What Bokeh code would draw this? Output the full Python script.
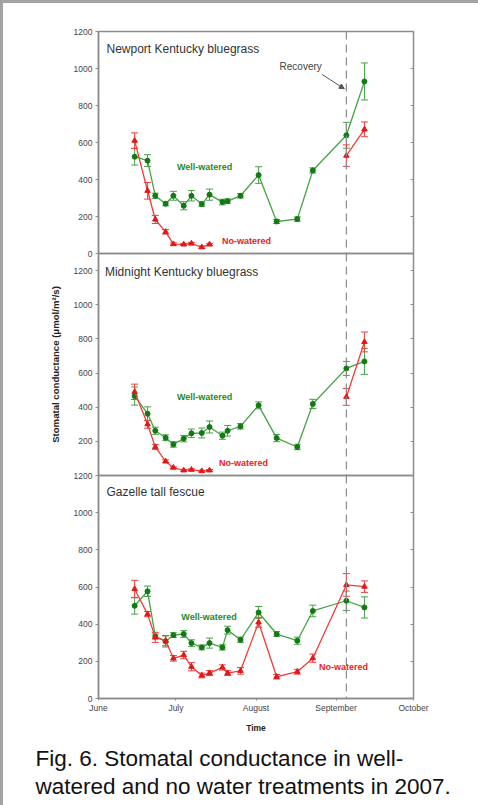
import math
import numpy as np
import pandas as pd
from bokeh.plotting import figure
from bokeh.models import (Range1d, FixedTicker, LinearAxis, Span, Label, Arrow,
                          NormalHead, Whisker, TeeHead, ColumnDataSource, Title)
from bokeh.layouts import column
from bokeh.embed import file_html
from bokeh.resources import INLINE

nan = float("nan")

# ---------------- data ----------------
dates = ["2007-06-15", "2007-06-20", "2007-06-23", "2007-06-27", "2007-06-30",
         "2007-07-04", "2007-07-07", "2007-07-11", "2007-07-14", "2007-07-19",
         "2007-07-21", "2007-07-26", "2007-08-02", "2007-08-09", "2007-08-17",
         "2007-08-23", "2007-09-05", "2007-09-12"]
start_date = "2007-06-01"
end_date = "2007-10-01"
month_starts = ["2007-06-01", "2007-07-01", "2007-08-01", "2007-09-01", "2007-10-01"]
month_labels = ["June", "July", "August", "September", "October"]
recovery_date = "2007-09-05"
y_ticks = [0, 200, 400, 600, 800, 1000, 1200]
y_ticks_middle = [200, 400, 600, 800, 1000, 1200]

panel_titles = ["Newport Kentucky bluegrass", "Midnight Kentucky bluegrass", "Gazelle tall fescue"]
y_label = "Stomatal conductance (\u03bcmol/m\u00b2/s)"
x_label = "Time"
caption = ["Fig. 6. Stomatal conductance in well-", "watered and no water treatments in 2007."]

newport_ww = [523, 502, 312, 269, 312, 258, 312, 267, 318, 278, 283, 312, 424, 173, 186, 449, 639, 930]
newport_ww_err = [45, 32, 14, 11, 24, 22, 28, 12, 30, 15, 12, 12, 45, 11, 12, 14, 70, 100]
newport_nw = [610, 339, 184, 117, 51, 49, 54, 34, 49, nan, nan, nan, nan, nan, nan, nan, 529, 671]
newport_nw_err = [42, 45, 22, 12, 6, 6, 6, 6, 6, nan, nan, nan, nan, nan, nan, nan, 58, 40]

midnight_ww = [465, 362, 262, 221, 182, 216, 247, 249, 284, 233, 262, 288, 411, 219, 167, 419, 627, 668]
midnight_ww_err = [53, 40, 21, 17, 16, 19, 25, 29, 35, 21, 31, 16, 20, 21, 16, 27, 41, 76]
midnight_nw = [490, 300, 167, 83, 46, 30, 34, 26, 30, nan, nan, nan, nan, nan, nan, nan, 460, 782]
midnight_nw_err = [45, 23, 14, 8, 5, 5, 5, 5, 5, nan, nan, nan, nan, nan, nan, nan, 49, 58]

gazelle_ww = [499, 577, 334, 307, 341, 347, 298, 275, 298, 275, 368, 316, 463, 347, 311, 471, 526, 490]
gazelle_ww_err = [45, 28, 13, 30, 13, 18, 18, 13, 27, 14, 21, 14, 32, 13, 19, 31, 52, 57]
gazelle_nw = [589, 454, 329, 311, 216, 234, 171, 124, 137, 167, 137, 149, 410, 117, 144, 217, 611, 602]
gazelle_nw_err = [47, 14, 27, 27, 15, 20, 22, 13, 13, 14, 13, 18, 27, 12, 13, 22, 61, 31]

# ---------------- helpers ----------------
t0 = pd.Timestamp(start_date)
def to_day(d):
    return (pd.Timestamp(d) - t0).days

x_days = [to_day(d) for d in dates]
month_days = [to_day(d) for d in month_starts]
recovery_day = to_day(recovery_date)

FONT = "Liberation Sans"
GRAY = "#8c8c8c"
G_LINE, G_MARK, G_TEXT = "#46a346", "#137a13", "#1f8a1f"
R_LINE, R_MARK, R_TEXT = "#f03c3c", "#e01818", "#e52222"
PAGE_EDGE = 3

x_range = Range1d(to_day(start_date), to_day(end_date))


def make_fig(frame_h, y_end, ticks, b_top, b_bottom, has_xaxis):
    p = figure(frame_width=315, frame_height=frame_h, x_range=x_range,
               y_range=Range1d(0, y_end), output_backend="svg", toolbar_location=None,
               min_border_left=98 - PAGE_EDGE, min_border_right=56, min_border_top=b_top,
               min_border_bottom=b_bottom,
               x_axis_location="below" if has_xaxis else None)
    p.xgrid.visible = False
    p.ygrid.visible = False
    p.background_fill_alpha = 0
    p.border_fill_alpha = 0
    p.outline_line_color = GRAY
    p.outline_line_width = 1.5
    ax = p.yaxis[0]
    ax.ticker = FixedTicker(ticks=ticks)
    ax.axis_line_color = GRAY
    ax.axis_line_width = 1.5
    ax.major_tick_line_color = GRAY
    ax.major_tick_out = 3
    ax.major_tick_in = 0
    ax.minor_tick_line_color = None
    ax.major_label_standoff = 3
    ax.major_label_text_font = FONT
    ax.major_label_text_font_size = "8.5px"
    ax.major_label_text_color = "#444444"
    rax = LinearAxis(ticker=FixedTicker(ticks=ticks), axis_line_color=None,
                     major_tick_line_color=GRAY, major_tick_in=3, major_tick_out=0,
                     minor_tick_line_color=None, major_label_text_alpha=0,
                     major_label_text_font_size="1px")
    p.add_layout(rax, "right")
    p.add_layout(Span(location=recovery_day, dimension="height", line_color=GRAY,
                      line_dash="8 5", line_width=1.2))
    return p


def draw_series(p, vals, errs, line_c, mark_c, marker, size):
    v = np.array(vals, dtype=float)
    e = np.array(errs, dtype=float)
    x = np.array(x_days, dtype=float)
    p.line(x, v, line_color=line_c, line_width=1.3)
    ok = ~np.isnan(v)
    src = ColumnDataSource(dict(x=x[ok], y=v[ok], up=(v + e)[ok], lo=(v - e)[ok]))
    p.add_layout(Whisker(source=src, base="x", upper="up", lower="lo",
                         line_color=line_c, line_width=1,
                         upper_head=TeeHead(size=7, line_color=line_c, line_width=1),
                         lower_head=TeeHead(size=7, line_color=line_c, line_width=1)))
    p.scatter("x", "y", source=src, marker=marker, size=size,
              fill_color=mark_c, line_color=mark_c)


def text(p, x, y, s, color, size, bold=False, align="center", baseline="middle", **kw):
    p.add_layout(Label(x=x, y=y, text=s, text_color=color, text_font=FONT,
                       text_font_size=size, text_font_style="bold" if bold else "normal",
                       text_align=align, text_baseline=baseline, **kw))


# ---------------- top ----------------
p1 = make_fig(222, 1200, y_ticks, 31 - PAGE_EDGE, 8, False)
draw_series(p1, newport_ww, newport_ww_err, G_LINE, G_MARK, "circle", 5)
draw_series(p1, newport_nw, newport_nw_err, R_LINE, R_MARK, "triangle", 5.5)
text(p1, 3.1, 1108, panel_titles[0], "#333333", "12px", align="left")
text(p1, 41.1, 470, "Well-watered", G_TEXT, "9px", bold=True)
text(p1, 57.3, 65, "No-watered", R_TEXT, "9px", bold=True)
text(p1, 78.3, 1011, "Recovery", "#444444", "10px")
p1.add_layout(Arrow(x_start=86.6, y_start=968, x_end=95.2, y_end=890,
                    line_color="#555555", line_width=1,
                    end=NormalHead(size=5, fill_color="#555555", line_color="#555555")))

# ---------------- middle ----------------
p2 = make_fig(222, 1300, y_ticks_middle, 8, 8, False)
p2.margin = (-16, 0, 0, 0)
draw_series(p2, midnight_ww, midnight_ww_err, G_LINE, G_MARK, "circle", 5)
draw_series(p2, midnight_nw, midnight_nw_err, R_LINE, R_MARK, "triangle", 5.5)
text(p2, 2.5, 1194, panel_titles[1], "#333333", "12px", align="left")
text(p2, 41.1, 457, "Well-watered", G_TEXT, "9px", bold=True)
text(p2, 56.2, 76, "No-watered", R_TEXT, "9px", bold=True)
ya = p2.yaxis[0]
ya.axis_label = y_label
ya.axis_label_text_font = FONT
ya.axis_label_text_font_size = "9.6px"
ya.axis_label_text_font_style = "bold"
ya.axis_label_text_color = "#222222"
ya.axis_label_standoff = 10

# ---------------- bottom ----------------
p3 = make_fig(223, 1200, y_ticks, 8, 104, True)
p3.margin = (-16, 0, 0, 0)
draw_series(p3, gazelle_ww, gazelle_ww_err, G_LINE, G_MARK, "circle", 5)
draw_series(p3, gazelle_nw, gazelle_nw_err, R_LINE, R_MARK, "triangle", 5.5)
text(p3, 3.1, 1109, panel_titles[2], "#333333", "12px", align="left")
text(p3, 42.8, 441, "Well-watered", G_TEXT, "9px", bold=True)
text(p3, 94.9, 172, "No-watered", R_TEXT, "9px", bold=True)

xa = p3.xaxis[0]
xa.ticker = FixedTicker(ticks=month_days)
xa.major_label_overrides = {d: lab for d, lab in zip(month_days, month_labels)}
xa.axis_line_color = GRAY
xa.axis_line_width = 1.5
xa.major_tick_line_color = GRAY
xa.major_tick_out = 2
xa.major_tick_in = 0
xa.minor_tick_line_color = None
xa.major_label_standoff = 2
xa.major_label_text_font = FONT
xa.major_label_text_font_size = "8.5px"
xa.major_label_text_color = "#444444"
xa.axis_label = x_label
xa.axis_label_text_font = FONT
xa.axis_label_text_font_size = "8.5px"
xa.axis_label_text_font_style = "bold"
xa.axis_label_text_color = "#222222"
xa.axis_label_standoff = 7

p3.add_layout(Title(text="\n".join(caption), align="left", offset=-63, standoff=16,
                    text_font=FONT, text_font_size="22.5px", text_font_style="normal",
                    text_line_height=1.1, text_color="#111111"), "below")

layout = column(p1, p2, p3, spacing=0)
page_template = ("{% block preamble %}<style>html,body{overflow:hidden;}html{border-left:" +
                 str(PAGE_EDGE) + "px solid #a3a3a3;border-top:" + str(PAGE_EDGE) +
                 "px solid #a3a3a3;}</style>{% endblock %}")
open("out.html", "w").write(file_html(layout, INLINE, template=page_template))
